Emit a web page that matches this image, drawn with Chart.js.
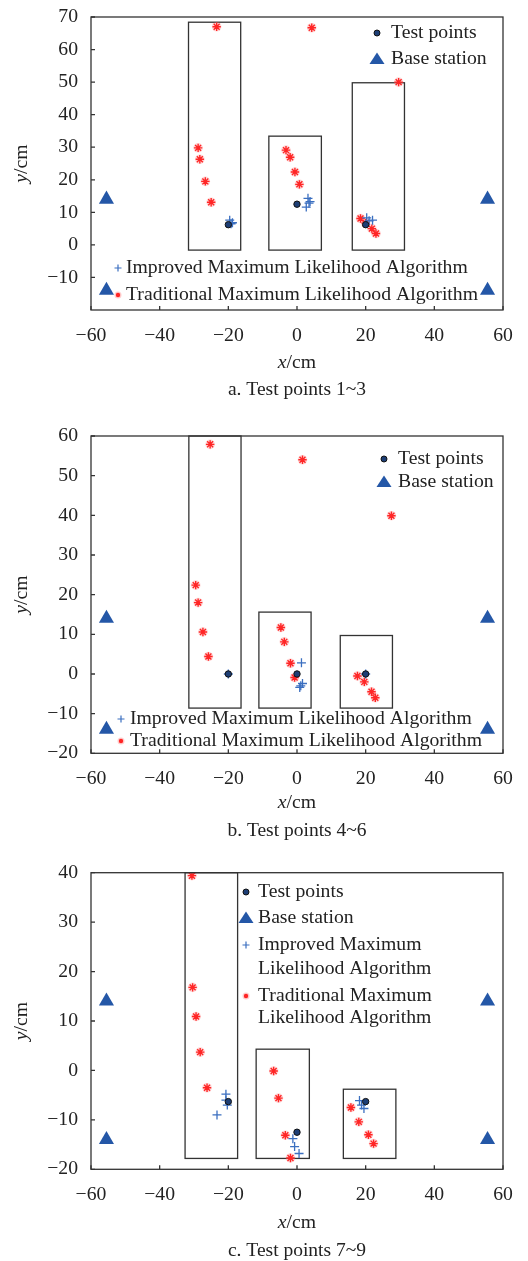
<!DOCTYPE html>
<html>
<head>
<meta charset="utf-8">
<script src="https://cdn.jsdelivr.net/npm/chart.js@4.4.1/dist/chart.umd.min.js"></script>
<style>
  body { margin: 0; background: #fff; }
  canvas { display: block; }
</style>
</head>
<body>
<canvas id="chartA" width="528" height="410"></canvas>
<canvas id="chartB" width="528" height="435"></canvas>
<canvas id="chartC" width="528" height="416"></canvas>
<script>
// legend / series names
const seriesNames = ["Test points", "Base station", "Improved Maximum Likelihood Algorithm", "Traditional Maximum Likelihood Algorithm"];
const captions = ["a. Test points 1~3", "b. Test points 4~6", "c. Test points 7~9"];
const xTicks = [-60, -40, -20, 0, 20, 40, 60];

// base stations (same in every panel)
const baseX = [-55.5, -55.5, 55.5, 55.5];
const baseY = [14, -14, 14, -14];

// panel a: test points 1~3
const testAX = [-20, 0, 20];
const testAY = [6.2, 12.5, 6.2];
const impAX = [-19.6, -18.8, -19.2, 2.7, 3.2, 3.5, 3.8, 20.3, 21.0, 22.0];
const impAY = [7.6, 6.8, 6.5, 11.6, 14.3, 12.8, 13.3, 8.3, 7.4, 7.6];
const tradAX = [-23.4, -28.8, -28.3, -26.7, -25.0, 4.3, -3.2, -2.0, -0.6, 0.7, 29.6, 18.5, 20.0, 21.8, 23.0];
const tradAY = [67.0, 29.8, 26.3, 19.5, 13.1, 66.7, 29.1, 26.9, 22.4, 18.6, 50.0, 8.1, 6.7, 5.0, 3.5];
const boxAX1 = [-31.6, -8.2, 16.1];
const boxAX2 = [-16.4, 7.1, 31.3];
const boxAY1 = [-1.6, -1.6, -1.6];
const boxAY2 = [68.4, 33.4, 49.8];
const yTicksA = [-10, 0, 10, 20, 30, 40, 50, 60, 70];

// panel b: test points 4~6
const testBX = [-20, 0, 20];
const testBY = [0, 0, 0];
const impBX = [-20, 1.3, 1.6, 0.8, 1.1, 20];
const impBY = [0, 2.8, -2.4, -3.4, -3.0, 0];
const tradBX = [-25.3, -29.5, -28.8, -27.4, -25.8, 1.6, 27.5, -4.7, -3.7, -1.9, -0.7, 17.6, 19.6, 21.7, 22.8];
const tradBY = [57.9, 22.4, 18.0, 10.6, 4.4, 54.0, 39.9, 11.7, 8.1, 2.7, -0.9, -0.5, -2.0, -4.5, -6.0];
const boxBX1 = [-31.5, -11.1, 12.6];
const boxBX2 = [-16.3, 4.1, 27.8];
const boxBY1 = [-8.6, -8.6, -8.6];
const boxBY2 = [60, 15.6, 9.7];
const yTicksB = [-20, -10, 0, 10, 20, 30, 40, 50, 60];

// panel c: test points 7~9
const testCX = [-20, 0, 20];
const testCY = [-6.3, -12.5, -6.3];
const impCX = [-20.7, -20.7, -20.3, -23.3, -1.2, -0.7, 0.6, 18.2, 18.8, 19.5];
const impCY = [-4.8, -6.0, -7.0, -9.0, -13.8, -15.4, -16.8, -6.1, -7.0, -7.7];
const tradCX = [-30.6, -30.4, -29.4, -28.2, -26.2, -6.8, -5.4, -3.4, -1.9, 15.7, 18.0, 20.8, 22.3];
const tradCY = [39.4, 16.8, 10.9, 3.7, -3.5, -0.1, -5.6, -13.1, -17.7, -7.5, -10.4, -13.0, -14.8];
const boxCX1 = [-32.6, -11.9, 13.5];
const boxCX2 = [-17.3, 3.6, 28.8];
const boxCY1 = [-17.8, -17.8, -17.8];
const boxCY2 = [40, 4.3, -3.8];
const yTicksC = [-20, -10, 0, 10, 20, 30, 40];

const FONT = "'Liberation Serif', 'Times New Roman', serif";
const FS = 19.7;
const TEXT = "#222";
const NAVY = "#1d3e75";
const BLUE = "#2457a7";
const PLUS = "#3b6fc0";
const RED = "#ff2626";

function pts(xs, ys) {
    return xs.map((x, i) => ({ x: x, y: ys[i] }));
}

function fmt(v) {
    return v < 0 ? "\u2212" + Math.abs(v) : String(v);
}

function drawMarker(ctx, kind, x, y) {
    ctx.save();
    if (kind === 0) {
        ctx.beginPath();
        ctx.arc(x, y, 3, 0, Math.PI * 2);
        ctx.fillStyle = NAVY;
        ctx.fill();
        ctx.lineWidth = 1;
        ctx.strokeStyle = "#111";
        ctx.stroke();
    } else if (kind === 1) {
        ctx.beginPath();
        ctx.moveTo(x, y - 6.5);
        ctx.lineTo(x + 7.5, y + 5);
        ctx.lineTo(x - 7.5, y + 5);
        ctx.closePath();
        ctx.fillStyle = BLUE;
        ctx.fill();
    } else if (kind === 2) {
        ctx.strokeStyle = PLUS;
        ctx.lineWidth = 1.2;
        ctx.beginPath();
        ctx.moveTo(x - 3.5, y); ctx.lineTo(x + 3.5, y);
        ctx.moveTo(x, y - 3.5); ctx.lineTo(x, y + 3.5);
        ctx.stroke();
    } else {
        ctx.beginPath();
        ctx.arc(x, y, 3.5, 0, Math.PI * 2);
        ctx.fillStyle = "rgba(255,90,90,0.3)";
        ctx.fill();
        ctx.beginPath();
        ctx.arc(x, y, 2.2, 0, Math.PI * 2);
        ctx.fillStyle = RED;
        ctx.fill();
    }
    ctx.restore();
}

// boxes, frame, inward ticks, titles, caption, legend
const decorPlugin = {
    id: "decor",
    beforeDatasetsDraw(chart, args, opts) {
        const ctx = chart.ctx;
        const xs = chart.scales.x, ys = chart.scales.y;
        ctx.save();
        ctx.strokeStyle = "#333";
        ctx.lineWidth = 1.3;
        opts.boxX1.forEach((x1, i) => {
            const l = xs.getPixelForValue(x1);
            const r = xs.getPixelForValue(opts.boxX2[i]);
            const t = ys.getPixelForValue(opts.boxY2[i]);
            const b = ys.getPixelForValue(opts.boxY1[i]);
            ctx.strokeRect(l, t, r - l, b - t);
        });
        ctx.restore();
    },
    afterDraw(chart, args, opts) {
        const ctx = chart.ctx;
        const a = chart.chartArea;
        const xs = chart.scales.x, ys = chart.scales.y;
        ctx.save();
        ctx.strokeStyle = "#333";
        ctx.lineWidth = 1.3;
        ctx.strokeRect(a.left, a.top, a.right - a.left, a.bottom - a.top);
        ctx.beginPath();
        xTicks.forEach(v => {
            const px = xs.getPixelForValue(v);
            ctx.moveTo(px, a.bottom);
            ctx.lineTo(px, a.bottom - 4);
        });
        opts.yTicks.forEach(v => {
            const py = ys.getPixelForValue(v);
            ctx.moveTo(a.left, py);
            ctx.lineTo(a.left + 4, py);
        });
        ctx.stroke();

        // axis titles with italic variable
        ctx.fillStyle = TEXT;
        ctx.textBaseline = "middle";
        const cx = (a.left + a.right) / 2;
        const ty = a.bottom + opts.titleGap;
        ctx.font = "italic " + FS + "px " + FONT;
        const wi = ctx.measureText("x").width;
        ctx.font = FS + "px " + FONT;
        const wr = ctx.measureText("/cm").width;
        let sx = cx - (wi + wr) / 2;
        ctx.textAlign = "left";
        ctx.font = "italic " + FS + "px " + FONT;
        ctx.fillText("x", sx, ty);
        ctx.font = FS + "px " + FONT;
        ctx.fillText("/cm", sx + wi, ty);

        ctx.save();
        ctx.translate(22, (a.top + a.bottom) / 2);
        ctx.rotate(-Math.PI / 2);
        ctx.font = "italic " + FS + "px " + FONT;
        const wy = ctx.measureText("y").width;
        sx = -(wy + wr) / 2;
        ctx.fillText("y", sx, 0);
        ctx.font = FS + "px " + FONT;
        ctx.fillText("/cm", sx + wy, 0);
        ctx.restore();

        ctx.font = "19.5px " + FONT;
        ctx.textAlign = "center";
        ctx.fillText(opts.caption, cx, a.bottom + opts.captionGap);

        // legend
        ctx.font = FS + "px " + FONT;
        ctx.textAlign = "left";
        opts.legend.forEach(item => {
            if (item.kind !== null) drawMarker(ctx, item.kind, item.mx, item.y);
            ctx.fillStyle = TEXT;
            ctx.fillText(item.text, item.tx, item.y);
        });
        ctx.restore();
    }
};

function makeChart(id, d) {
    const datasets = [
        { label: seriesNames[0], data: pts(d.testX, d.testY), pointStyle: "circle", pointRadius: 3.2,
          backgroundColor: NAVY, borderColor: "#111", borderWidth: 1 },
        { label: seriesNames[2], data: pts(d.impX, d.impY), pointStyle: "cross", pointRadius: 4.5,
          borderColor: PLUS, borderWidth: 1.3 },
        { label: seriesNames[3], data: pts(d.tradX, d.tradY), pointStyle: "star", pointRadius: 4.2,
          borderColor: RED, borderWidth: 1.4 },
        { label: "halo", data: pts(d.tradX, d.tradY), pointStyle: "circle", pointRadius: 4.8,
          backgroundColor: "rgba(255,110,110,0.28)", borderWidth: 0 },
        { label: seriesNames[1], data: pts(baseX, baseY), pointStyle: "triangle", pointRadius: 8.7,
          backgroundColor: BLUE, borderColor: BLUE, borderWidth: 0 }
    ];
    return new Chart(document.getElementById(id), {
        type: "scatter",
        data: { datasets: datasets },
        options: {
            responsive: false,
            animation: false,
            layout: { padding: { left: 0, right: 25, top: d.top, bottom: 0 } },
            plugins: {
                legend: { display: false },
                tooltip: { enabled: false },
                decor: {
                    boxX1: d.boxX1, boxX2: d.boxX2, boxY1: d.boxY1, boxY2: d.boxY2,
                    yTicks: d.yTicks, caption: d.caption, legend: d.legend,
                    titleGap: d.titleGap, captionGap: d.captionGap
                }
            },
            scales: {
                x: {
                    type: "linear", min: -60, max: 60,
                    grid: { display: false }, border: { display: false },
                    afterBuildTicks: s => { s.ticks = xTicks.map(v => ({ value: v })); },
                    afterFit: s => { s.height = d.xAxisH; },
                    ticks: { color: TEXT, padding: 6, maxRotation: 0, font: { family: FONT, size: FS },
                             callback: v => fmt(v) }
                },
                y: {
                    type: "linear", min: d.yMin, max: d.yMax,
                    grid: { display: false }, border: { display: false },
                    afterBuildTicks: s => { s.ticks = d.yTicks.map(v => ({ value: v })); },
                    afterFit: s => { s.width = 91; },
                    ticks: { color: TEXT, padding: 5, font: { family: FONT, size: FS },
                             callback: v => fmt(v) }
                }
            }
        },
        plugins: [decorPlugin]
    });
}

makeChart("chartA", {
    testX: testAX, testY: testAY, impX: impAX, impY: impAY, tradX: tradAX, tradY: tradAY,
    boxX1: boxAX1, boxX2: boxAX2, boxY1: boxAY1, boxY2: boxAY2,
    yTicks: yTicksA, yMin: -20, yMax: 70, top: 17, xAxisH: 100,
    caption: captions[0], titleGap: 53, captionGap: 80,
    legend: [
        { kind: 0, mx: 377, tx: 391, y: 33, text: seriesNames[0] },
        { kind: 1, mx: 377, tx: 391, y: 59, text: seriesNames[1] },
        { kind: 2, mx: 118, tx: 126, y: 268, text: seriesNames[2] },
        { kind: 3, mx: 118, tx: 126, y: 295, text: seriesNames[3] }
    ]
});

makeChart("chartB", {
    testX: testBX, testY: testBY, impX: impBX, impY: impBY, tradX: tradBX, tradY: tradBY,
    boxX1: boxBX1, boxX2: boxBX2, boxY1: boxBY1, boxY2: boxBY2,
    yTicks: yTicksB, yMin: -20, yMax: 60, top: 26, xAxisH: 91.7,
    caption: captions[1], titleGap: 50, captionGap: 78,
    legend: [
        { kind: 0, mx: 384, tx: 398, y: 49, text: seriesNames[0] },
        { kind: 1, mx: 384, tx: 398, y: 72, text: seriesNames[1] },
        { kind: 2, mx: 121, tx: 130, y: 309, text: seriesNames[2] },
        { kind: 3, mx: 121, tx: 130, y: 331, text: seriesNames[3] }
    ]
});

makeChart("chartC", {
    testX: testCX, testY: testCY, impX: impCX, impY: impCY, tradX: tradCX, tradY: tradCY,
    boxX1: boxCX1, boxX2: boxCX2, boxY1: boxCY1, boxY2: boxCY2,
    yTicks: yTicksC, yMin: -20, yMax: 40, top: 27.7, xAxisH: 91.7,
    caption: captions[2], titleGap: 54, captionGap: 82,
    legend: [
        { kind: 0, mx: 246, tx: 258, y: 47, text: seriesNames[0] },
        { kind: 1, mx: 246, tx: 258, y: 73, text: seriesNames[1] },
        { kind: 2, mx: 246, tx: 258, y: 100, text: "Improved Maximum" },
        { kind: null, mx: 246, tx: 258, y: 124, text: "Likelihood Algorithm" },
        { kind: 3, mx: 246, tx: 258, y: 151, text: "Traditional Maximum" },
        { kind: null, mx: 246, tx: 258, y: 173, text: "Likelihood Algorithm" }
    ]
});
</script>
</body>
</html>
